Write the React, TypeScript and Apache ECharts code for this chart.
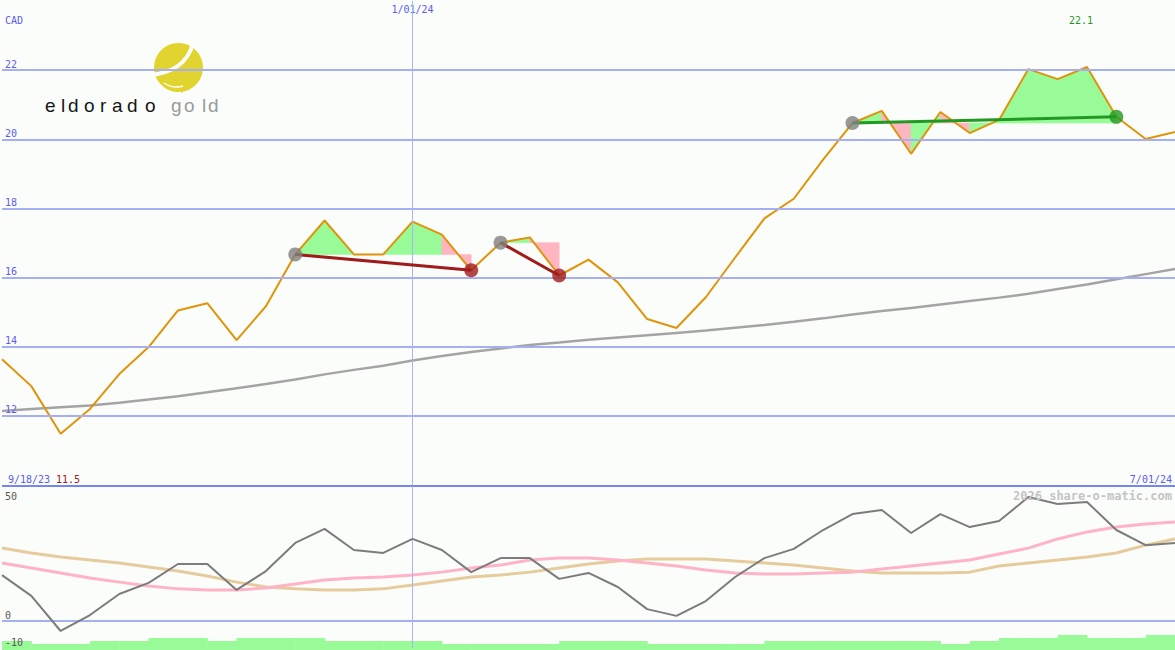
import React, { useEffect, useRef } from 'react';
import * as echarts from 'echarts';

const dates = [
  '9/25/23', '10/02/23', '10/09/23', '10/16/23', '10/23/23', '10/30/23', '11/06/23', '11/13/23', '11/20/23', '11/27/23',
  '12/04/23', '12/11/23', '12/18/23', '12/25/23', '1/01/24', '1/08/24', '1/15/24', '1/22/24', '1/29/24', '2/05/24',
  '2/12/24', '2/19/24', '2/26/24', '3/04/24', '3/11/24', '3/18/24', '3/25/24', '4/01/24', '4/08/24', '4/15/24',
  '4/22/24', '4/29/24', '5/06/24', '5/13/24', '5/20/24', '5/27/24', '6/03/24', '6/10/24', '6/17/24', '6/24/24', '7/01/24',
];

const price = [
  13.64, 12.86, 11.48, 12.2, 13.21, 13.99, 15.05, 15.26, 14.19, 15.17,
  16.67, 17.65, 16.67, 16.67, 17.62, 17.24, 16.21, 17.01, 17.16, 16.06,
  16.52, 15.86, 14.8, 14.54, 15.43, 16.58, 17.71, 18.28, 19.41, 20.47,
  20.82, 19.58, 20.79, 20.18, 20.56, 22.03, 21.74, 22.09, 20.65, 20.01, 20.21,
];

const movingAvg = [
  12.14, 12.2, 12.25, 12.3, 12.38, 12.47, 12.57, 12.68, 12.8, 12.92,
  13.05, 13.2, 13.33, 13.45, 13.6, 13.73, 13.85, 13.95, 14.05, 14.12,
  14.2, 14.27, 14.33, 14.4, 14.47, 14.55, 14.63, 14.72, 14.82, 14.93,
  15.03, 15.12, 15.22, 15.32, 15.42, 15.53, 15.67, 15.8, 15.95, 16.1, 16.25,
];

const oscMain = [
  17.0, 9.3, -3.7, 2.2, 10.0, 14.1, 21.1, 21.1, 11.5, 18.5,
  28.9, 34.1, 26.3, 25.2, 30.4, 26.3, 18.1, 23.3, 23.3, 15.6,
  17.8, 12.6, 4.4, 1.9, 7.4, 16.3, 23.3, 26.7, 33.7, 39.6,
  41.1, 32.6, 39.6, 34.8, 37.0, 45.9, 43.3, 44.1, 33.7, 28.1, 28.9,
];

const oscPink = [
  21.5, 19.6, 17.8, 15.9, 14.4, 13.0, 11.9, 11.5, 11.5, 12.2,
  13.7, 15.2, 15.9, 16.3, 17.0, 18.1, 19.6, 20.7, 22.6, 23.3,
  23.3, 22.6, 21.5, 20.4, 18.9, 17.8, 17.4, 17.4, 17.8, 18.1,
  19.3, 20.4, 21.5, 22.6, 24.8, 27.0, 30.4, 33.0, 34.8, 35.9, 36.7,
];

const oscTan = [
  27.0, 25.2, 23.7, 22.6, 21.5, 20.0, 18.5, 16.7, 14.4, 12.6,
  11.9, 11.5, 11.5, 11.9, 13.3, 14.8, 16.3, 17.0, 18.1, 19.6,
  21.1, 22.2, 23.0, 23.0, 23.0, 22.2, 21.5, 20.7, 19.6, 18.5,
  17.8, 17.8, 17.8, 18.1, 20.4, 21.5, 22.6, 23.7, 25.2, 28.1, 30.4,
];

const volume = [
  9, 6, 6, 9, 9, 12, 12, 9, 12, 12,
  12, 9, 9, 9, 9, 6, 6, 6, 6, 9,
  9, 9, 6, 6, 6, 6, 9, 9, 9, 9,
  9, 9, 6, 9, 12, 12, 15, 12, 12, 15,
];

const priceTicks = [12, 14, 16, 18, 20, 22];
const trends = [
  { from: 10, to: 16, color: '#a01c1c' },
  { from: 17, to: 19, color: '#a01c1c' },
  { from: 29, to: 38, color: '#229922' },
];
const markerDate = '1/01/24';
const startLabel = '9/18/23';
const endLabel = '7/01/24';
const currency = 'CAD';
const watermark = '2026 share-o-matic.com';

const BG = '#fbfdfb';
const BLUE = '#5a5cf2';
const GRAYTXT = '#585858';
const GRIDC = '#a6aef4';
const MONO = 'DejaVu Sans Mono';

export default function App() {
  const ref = useRef<HTMLDivElement>(null);
  useEffect(() => {
    if (!ref.current) return;
    const chart = echarts.init(ref.current, undefined, { renderer: 'svg' });

    const fillData: number[][] = [];
    trends.forEach((t) => {
      for (let i = t.from; i < t.to; i++) fillData.push([i, price[i], price[i + 1], price[t.from]]);
    });

    const minP = Math.min(...price).toFixed(1);
    const maxP = Math.max(...price).toFixed(1);

    const logoChars = [
      { c: 'e', x: 45, g: false }, { c: 'l', x: 61, g: false }, { c: 'd', x: 68, g: false }, { c: 'o', x: 84, g: false },
      { c: 'r', x: 100, g: false }, { c: 'a', x: 112, g: false }, { c: 'd', x: 127, g: false }, { c: 'o', x: 145, g: false },
      { c: 'g', x: 171, g: true }, { c: 'o', x: 184, g: true }, { c: 'l', x: 202, g: true }, { c: 'd', x: 208, g: true },
    ];

    const option: any = {
      animation: false,
      backgroundColor: BG,
      grid: [
        { left: 2, right: 0, top: 1, height: 484 },
        { left: 2, right: 0, top: 486, height: 162 },
        { left: 2, right: 0, top: 630, height: 20 },
      ],
      xAxis: [
        {
          gridIndex: 0, type: 'category', data: dates, boundaryGap: false, position: 'top',
          axisLine: { show: false }, axisTick: { show: false }, splitLine: { show: false },
          axisLabel: {
            show: true, inside: true, margin: 3, color: BLUE, fontFamily: MONO, fontSize: 10,
            interval: (_i: number, v: string) => v === markerDate,
          },
        },
        { gridIndex: 1, type: 'category', data: dates, boundaryGap: false, show: false },
        { gridIndex: 2, type: 'category', data: dates, boundaryGap: false, show: false },
      ],
      yAxis: [
        { gridIndex: 0, type: 'value', min: 10, max: 24, show: false, splitLine: { show: false } },
        { gridIndex: 1, type: 'value', min: -10, max: 50, show: false, splitLine: { show: false } },
        { gridIndex: 2, type: 'value', min: 0, max: 20, show: false, splitLine: { show: false } },
      ],
      series: [
        {
          type: 'line', xAxisIndex: 0, yAxisIndex: 0, data: price, symbol: 'none', silent: true, z: 1,
          lineStyle: { opacity: 0 },
          markLine: {
            silent: true, symbol: ['none', 'none'], animation: false,
            lineStyle: { color: GRIDC, width: 2, type: 'solid' },
            label: {
              position: 'insideStartTop', distance: [3, 1], color: BLUE, fontFamily: MONO, fontSize: 10,
              formatter: (p: any) => String(p.value),
            },
            data: [
              ...priceTicks.map((v) => ({ yAxis: v })),
              { xAxis: markerDate, lineStyle: { width: 1, color: '#aab2ff' }, label: { show: false } },
            ],
          },
        },
        {
          type: 'custom', xAxisIndex: 0, yAxisIndex: 0, data: fillData, z: 2, silent: true,
          encode: { x: 0, y: [1, 2, 3] },
          renderItem: (_p: any, api: any) => {
            const i = api.value(0), a = api.value(1), b = api.value(2), base = api.value(3);
            const pts = [api.coord([i, a]), api.coord([i + 1, b]), api.coord([i + 1, base]), api.coord([i, base])];
            const col = b >= base ? '#98fb98' : '#ffb6c1';
            return { type: 'polygon', shape: { points: pts }, style: { fill: col, stroke: col, lineWidth: 0.6 } };
          },
        },
        {
          type: 'line', xAxisIndex: 0, yAxisIndex: 0, data: movingAvg, symbol: 'none', z: 3,
          lineStyle: { color: '#a4a4a4', width: 2.5 },
        },
        {
          type: 'line', xAxisIndex: 0, yAxisIndex: 0, data: price, symbol: 'none', z: 4,
          lineStyle: { color: '#e0940a', width: 2 },
        },
        ...trends.map((t) => ({
          type: 'line', xAxisIndex: 0, yAxisIndex: 0, symbol: 'none', z: 5,
          data: [[t.from, price[t.from]], [t.to, price[t.to]]],
          lineStyle: { color: t.color, width: 3 },
        })),
        {
          type: 'scatter', xAxisIndex: 0, yAxisIndex: 0, symbolSize: 14, z: 6,
          data: [
            ...trends.map((t) => ({ value: [t.from, price[t.from]], itemStyle: { color: '#808080' } })),
            ...trends.map((t) => ({ value: [t.to, price[t.to]], itemStyle: { color: t.color } })),
          ],
        },
        {
          type: 'line', xAxisIndex: 1, yAxisIndex: 1, data: oscTan, symbol: 'none', z: 3,
          lineStyle: { color: '#e6cc9c', width: 3 },
          markLine: {
            silent: true, symbol: ['none', 'none'], animation: false,
            lineStyle: { color: GRIDC, width: 2, type: 'solid' },
            label: {
              position: 'insideStartTop', distance: [3, 1], color: GRAYTXT, fontFamily: MONO, fontSize: 10,
              formatter: (p: any) => String(p.value),
            },
            data: [
              { yAxis: 0 },
              { yAxis: 50, lineStyle: { color: '#7686f0', width: 2 }, label: { show: false } },
              { xAxis: markerDate, lineStyle: { width: 1, color: '#aab2ff' }, label: { show: false } },
            ],
          },
        },
        {
          type: 'line', xAxisIndex: 1, yAxisIndex: 1, data: oscPink, symbol: 'none', z: 4,
          lineStyle: { color: '#ffb3c6', width: 3 },
        },
        {
          type: 'line', xAxisIndex: 1, yAxisIndex: 1, data: oscMain, symbol: 'none', z: 5,
          lineStyle: { color: '#7c7c7c', width: 2 },
        },
        {
          type: 'custom', xAxisIndex: 2, yAxisIndex: 2, z: 2, silent: true,
          data: volume.map((v, i) => [i, v]),
          encode: { x: 0, y: 1 },
          renderItem: (_p: any, api: any) => {
            const i = api.value(0), v = api.value(1);
            const p1 = api.coord([i, v]);
            const p2 = api.coord([i + 1, 0]);
            return {
              type: 'rect',
              shape: { x: p1[0], y: p1[1], width: p2[0] - p1[0] + 0.5, height: p2[1] - p1[1] },
              style: { fill: '#98fb98' },
            };
          },
        },
      ],
      graphic: [
        { type: 'text', left: 5, top: 15, z: 10, style: { text: currency, fill: BLUE, font: `10px "${MONO}"` } },
        { type: 'text', x: 1081, y: 15, z: 10, style: { text: maxP, fill: '#229922', font: `10px "${MONO}"`, textAlign: 'center' } },
        { type: 'text', x: 8, y: 474, z: 10, style: { text: startLabel, fill: BLUE, font: `10px "${MONO}"` } },
        { type: 'text', x: 56, y: 474, z: 10, style: { text: minP, fill: '#a01c1c', font: `10px "${MONO}"` } },
        { type: 'text', x: 1172, y: 474, z: 10, style: { text: endLabel, fill: BLUE, font: `10px "${MONO}"`, textAlign: 'right' } },
        { type: 'text', x: 1172, y: 490, z: 10, style: { text: watermark, fill: '#c4c4c4', font: `bold 12px "${MONO}"`, textAlign: 'right' } },
        { type: 'text', x: 5, y: 491, z: 10, style: { text: '50', fill: GRAYTXT, font: `10px "${MONO}"` } },
        { type: 'text', x: 5, y: 637, z: 10, style: { text: '-10', fill: GRAYTXT, font: `10px "${MONO}"` } },
        {
          type: 'group', z: 20,
          children: [
            { type: 'rect', shape: { x: 35, y: 42, width: 199, height: 76 }, style: { fill: BG } },
            { type: 'circle', shape: { cx: 178.5, cy: 67.5, r: 24.5 }, style: { fill: '#e2d42e' } },
            { type: 'polygon', shape: { points: [[167, 84], [183, 93], [183, 84]] }, style: { fill: '#e2d42e' } },
            {
              type: 'bezierCurve',
              shape: { x1: 151, y1: 75, cpx1: 172, cpy1: 73, cpx2: 188, cpy2: 63, x2: 193, y2: 43 },
              style: { stroke: BG, lineWidth: 4, fill: null },
            },
            {
              type: 'bezierCurve',
              shape: { x1: 164, y1: 83, cpx1: 170, cpy1: 87, cpx2: 177, cpy2: 88, x2: 183, y2: 86 },
              style: { stroke: BG, lineWidth: 1.5, fill: null },
            },
            ...logoChars.map((ch) => ({
              type: 'text', x: ch.x, y: 115,
              style: {
                text: ch.c, fill: ch.g ? '#9a9a9a' : '#151515',
                font: '19px "Liberation Sans"', verticalAlign: 'bottom',
              },
            })),
          ],
        },
      ],
    };

    chart.setOption(option);
    return () => chart.dispose();
  }, []);

  return (
    <div
      ref={ref}
      style={{ position: 'fixed', left: 0, top: 0, width: 1175, height: 650, background: BG }}
    />
  );
}
